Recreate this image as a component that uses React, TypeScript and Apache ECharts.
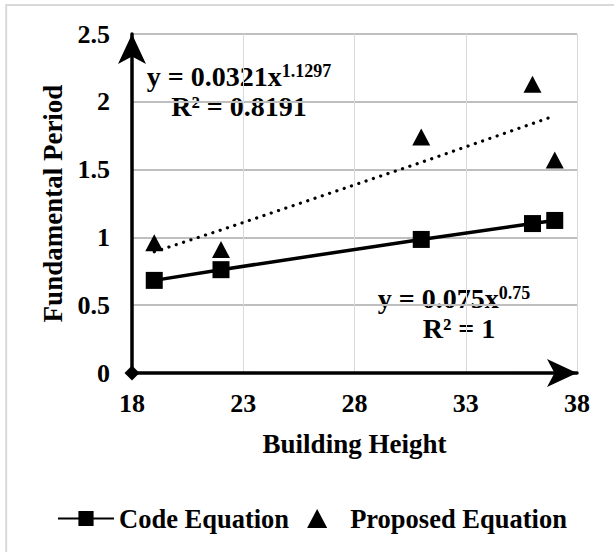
import React, { useEffect, useRef } from 'react';
import * as echarts from 'echarts';

// Building heights (x) and fundamental periods (y)
const heights = [19, 22, 31, 36, 37];
const codePeriods = [0.683, 0.762, 0.985, 1.102, 1.125];
const proposedPeriods = [0.96, 0.91, 1.74, 2.13, 1.57];

// Axis ranges and tick steps
const xRange = [18, 38];
const xStep = 5;
const yRange = [0, 2.5];
const yStep = 0.5;

// Power trend line of the proposed values, as printed on the chart
const fitCoef = 0.0321;
const fitExp = 1.1297;
const fitR2 = '0.8191';

// Code equation, as printed on the chart
const codeCoef = '0.075';
const codeExp = '0.75';
const codeR2 = '1';

const origin = [[18, 0]];

const FONT = "'Liberation Serif', 'Times New Roman', serif";
const boldText = { fontFamily: FONT, fontWeight: 'bold' as const, color: '#000' };

// Triangle glyph used for the legend entry, kept at its own aspect ratio
const TRIANGLE_ICON = 'path://M9,0 L18,17 L0,17 Z';

export default function App() {
  const ref = useRef<HTMLDivElement>(null);

  useEffect(() => {
    const chart = echarts.init(ref.current!, null, { renderer: 'svg' });

    const eqMain = { fontFamily: FONT, fontWeight: 'bold', fontSize: 28, fill: '#000' };
    const eqSup = { fontFamily: FONT, fontWeight: 'bold', fontSize: 18, fill: '#000', verticalAlign: 'top' };

    const arrowLine = {
      show: true,
      lineStyle: { color: '#000', width: 3.5 },
      symbol: ['none', 'arrow'],
      symbolSize: [21, 30],
      symbolOffset: [0, 0],
    };

    chart.setOption({
      animation: false,
      backgroundColor: '#fff',
      grid: { left: 132, right: 37, top: 34, bottom: 179 },
      xAxis: {
        type: 'value',
        min: xRange[0],
        max: xRange[1],
        interval: xStep,
        name: 'Building Height',
        nameLocation: 'middle',
        nameGap: 57,
        nameTextStyle: { ...boldText, fontSize: 27 },
        axisLine: arrowLine,
        axisTick: { show: false },
        axisLabel: { ...boldText, fontSize: 26, margin: 17 },
        splitLine: { show: true, lineStyle: { color: '#d9d9d9', width: 1 } },
      },
      yAxis: {
        type: 'value',
        min: yRange[0],
        max: yRange[1],
        interval: yStep,
        name: 'Fundamental Period',
        nameLocation: 'middle',
        nameGap: 63,
        nameTextStyle: { ...boldText, fontSize: 27 },
        axisLine: arrowLine,
        axisTick: { show: false },
        axisLabel: { ...boldText, fontSize: 26, margin: 22 },
        splitLine: { show: true, lineStyle: { color: '#bfbfbf', width: 2 } },
      },
      legend: {
        left: 52,
        top: 500,
        itemWidth: 56,
        itemHeight: 19,
        itemGap: 18,
        symbolKeepAspect: true,
        data: [
          { name: 'Code Equation' },
          { name: 'Proposed Equation', icon: TRIANGLE_ICON },
        ],
        textStyle: { ...boldText, fontSize: 26.5 },
      },
      series: [
        {
          name: 'Power (Proposed Equation)',
          type: 'line',
          data: heights.map((h) => [h, fitCoef * Math.pow(h, fitExp)]),
          symbol: 'none',
          lineStyle: { color: '#000', width: 3.2, type: [0.1, 7.6], cap: 'round' },
          z: 1,
          silent: true,
        },
        {
          name: 'Code Equation',
          type: 'line',
          data: heights.map((h, i) => [h, codePeriods[i]]),
          symbol: 'rect',
          symbolSize: 17,
          itemStyle: { color: '#000' },
          lineStyle: { color: '#000', width: 3.5 },
          z: 3,
        },
        {
          name: 'Proposed Equation',
          type: 'scatter',
          data: heights.map((h, i) => [h, proposedPeriods[i]]),
          symbol: 'triangle',
          symbolSize: [18, 17],
          itemStyle: { color: '#000', opacity: 1 },
          z: 4,
        },
        {
          type: 'scatter',
          data: origin,
          symbol: 'diamond',
          symbolSize: 15,
          itemStyle: { color: '#000', opacity: 1 },
          clip: false,
          silent: true,
          z: 6,
        },
      ],
      graphic: [
        {
          type: 'rect',
          silent: true,
          shape: { x: 6.2, y: 4.9, width: 700, height: 700 },
          style: { fill: 'none', stroke: '#d9d9d9', lineWidth: 2 },
        },
        {
          type: 'text',
          x: 239,
          y: 76,
          style: {
            text: `{m|y = ${fitCoef}x}{s|${fitExp}}`,
            align: 'center',
            verticalAlign: 'middle',
            rich: { m: eqMain, s: eqSup },
          },
        },
        {
          type: 'text',
          x: 239,
          y: 106,
          style: { ...eqMain, text: `R² = ${fitR2}`, align: 'center', verticalAlign: 'middle' },
        },
        {
          type: 'text',
          x: 454,
          y: 298,
          style: {
            text: `{m|y = ${codeCoef}x}{s|${codeExp}}`,
            align: 'center',
            verticalAlign: 'middle',
            rich: { m: eqMain, s: eqSup },
          },
        },
        {
          type: 'text',
          x: 459,
          y: 328,
          style: { ...eqMain, text: `R² = ${codeR2}`, align: 'center', verticalAlign: 'middle' },
        },
      ],
    });

    return () => chart.dispose();
  }, []);

  return (
    <div
      ref={ref}
      style={{ position: 'fixed', left: 0, top: 0, width: 614, height: 552, background: '#fff' }}
    />
  );
}
